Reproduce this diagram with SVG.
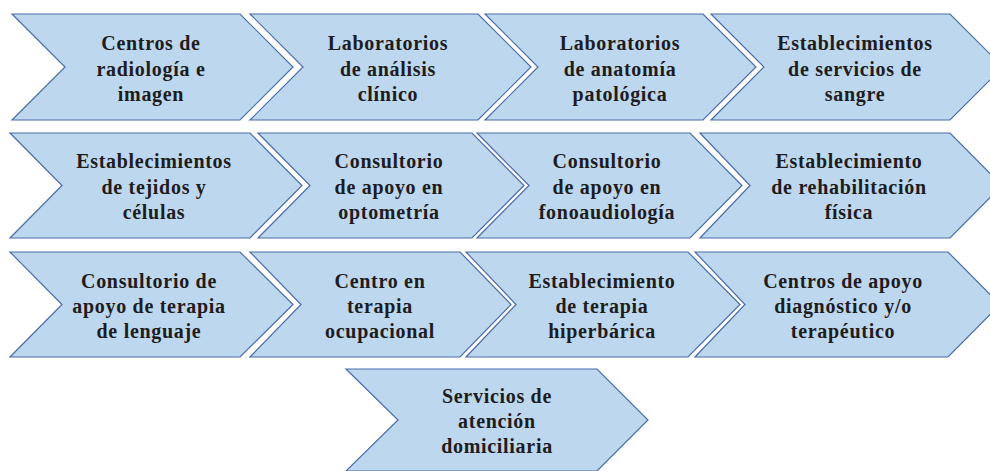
<svg xmlns="http://www.w3.org/2000/svg" width="990" height="471" viewBox="0 0 990 471">
<style>
.chev{fill:#BDD7EE;stroke:#4A6DA8;stroke-width:1.2;stroke-linejoin:miter}
.t{font-family:"Liberation Serif","Times New Roman",Times,serif;font-weight:bold;font-size:20px;letter-spacing:0.7px;fill:#1E1C1D;text-anchor:middle}
</style>
<rect width="990" height="471" fill="#FFFFFF"/>
<g id="n1"><polygon class="chev" points="12,14 240,14 293,67 240,120 12,120 65,67"/>
<text class="t"><tspan x="151" y="50">Centros de</tspan><tspan x="151" y="75.5">radiología e</tspan><tspan x="151" y="101">imagen</tspan></text></g>
<g id="n2"><polygon class="chev" points="250,14 478,14 531,67 478,120 250,120 303,67"/>
<text class="t"><tspan x="388" y="50">Laboratorios</tspan><tspan x="388" y="75.5">de análisis</tspan><tspan x="388" y="101">clínico</tspan></text></g>
<g id="n3"><polygon class="chev" points="485,14 703,14 756,67 703,120 485,120 538,67"/>
<text class="t"><tspan x="620" y="50">Laboratorios</tspan><tspan x="620" y="75.5">de anatomía</tspan><tspan x="620" y="101">patológica</tspan></text></g>
<g id="n4"><polygon class="chev" points="711,14 950,14 1003,67 950,120 711,120 764,67"/>
<text class="t"><tspan x="855" y="50">Establecimientos</tspan><tspan x="855" y="75.5">de servicios de</tspan><tspan x="855" y="101">sangre</tspan></text></g>

<g id="n5"><polygon class="chev" points="10,133 250,133 302,185.5 250,238 10,238 62,185.5"/>
<text class="t"><tspan x="154" y="168">Establecimientos</tspan><tspan x="154" y="194">de tejidos y</tspan><tspan x="154" y="219">células</tspan></text></g>
<g id="n6"><polygon class="chev" points="258,133 472,133 524,185.5 472,238 258,238 310,185.5"/>
<text class="t"><tspan x="389" y="168">Consultorio</tspan><tspan x="389" y="194">de apoyo en</tspan><tspan x="389" y="219">optometría</tspan></text></g>
<g id="n7"><polygon class="chev" points="477,133 690,133 742,185.5 690,238 477,238 529,185.5"/>
<text class="t"><tspan x="607" y="168">Consultorio</tspan><tspan x="607" y="194">de apoyo en</tspan><tspan x="607" y="219">fonoaudiología</tspan></text></g>
<g id="n8"><polygon class="chev" points="700,133 950,133 1002,185.5 950,238 700,238 750,185.5"/>
<text class="t"><tspan x="849" y="168">Establecimiento</tspan><tspan x="849" y="194">de rehabilitación</tspan><tspan x="849" y="219">física</tspan></text></g>

<g id="n9"><polygon class="chev" points="10,252 240,252 293,304.5 240,357 10,357 62,304.5"/>
<text class="t"><tspan x="149" y="288">Consultorio de</tspan><tspan x="149" y="313">apoyo de terapia</tspan><tspan x="149" y="338">de lenguaje</tspan></text></g>
<g id="n10"><polygon class="chev" points="250,252 460,252 511,304.5 460,357 250,357 301,304.5"/>
<text class="t"><tspan x="380" y="288">Centro en</tspan><tspan x="380" y="313">terapia</tspan><tspan x="380" y="338">ocupacional</tspan></text></g>
<g id="n11"><polygon class="chev" points="466,252 688,252 740,304.5 688,357 466,357 516,304.5"/>
<text class="t"><tspan x="602" y="288">Establecimiento</tspan><tspan x="602" y="313">de terapia</tspan><tspan x="602" y="338">hiperbárica</tspan></text></g>
<g id="n12"><polygon class="chev" points="695,252 948,252 1000,304.5 948,357 695,357 745,304.5"/>
<text class="t"><tspan x="843" y="288">Centros de apoyo</tspan><tspan x="843" y="313">diagnóstico y/o</tspan><tspan x="843" y="338">terapéutico</tspan></text></g>

<g id="n13"><polygon class="chev" points="346,369 597,369 648,420 597,471 346,471 398,420"/>
<text class="t"><tspan x="497" y="403">Servicios de</tspan><tspan x="497" y="428">atención</tspan><tspan x="497" y="453">domiciliaria</tspan></text></g>
</svg>
